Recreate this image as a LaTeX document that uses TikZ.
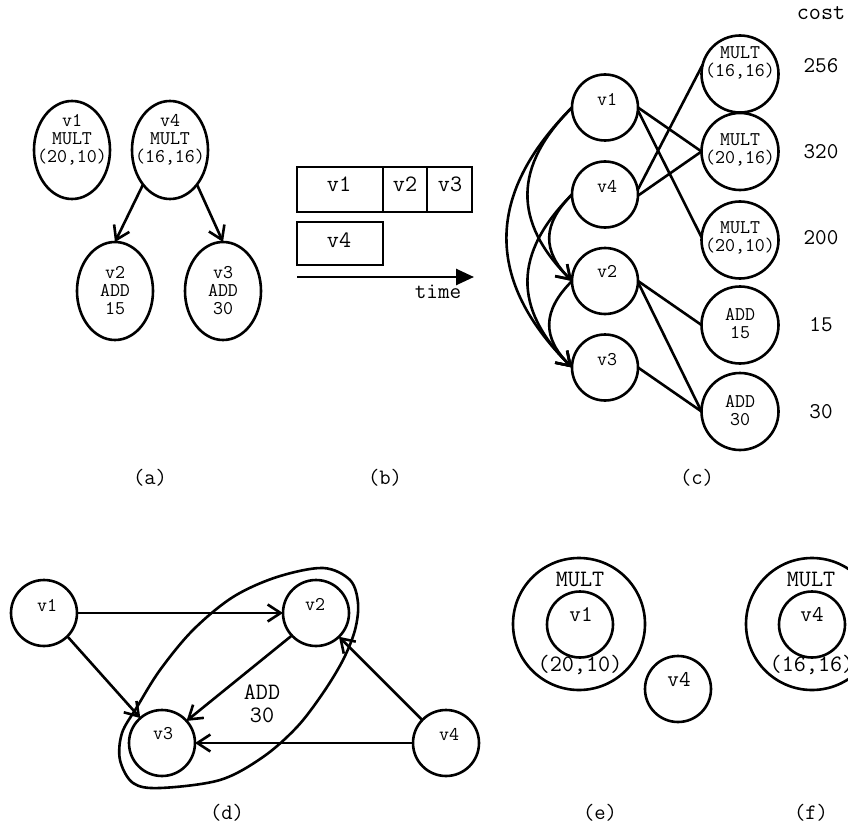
\documentclass[tikz,border=0pt]{standalone}
\usetikzlibrary{shapes.geometric,arrows.meta}
\begin{document}
\begin{tikzpicture}[x=1pt,y=-1pt,line width=2.6pt,
  every node/.style={inner sep=0pt,outer sep=0pt},
  ell/.style={draw,ellipse,minimum width=76pt,minimum height=98pt},
  vc/.style={draw,circle,minimum size=66pt},
  oc/.style={draw,circle,minimum size=77pt},
  bigc/.style={draw,circle,minimum size=132pt},
  boxn/.style={draw,rectangle},
  arr/.style={-{Straight Barb[length=13pt,width=17pt]}},
  tA/.style={font=\ttfamily\fontsize{19.4}{18}\selectfont,align=center},
  tB/.style={font=\ttfamily\fontsize{22.5}{22}\selectfont,align=center},
  tC/.style={font=\ttfamily\fontsize{23.5}{23}\selectfont,align=center},
  lab/.style={font=\ttfamily\fontsize{22}{22}\selectfont}]
\fill[white] (0,0) rectangle (848,829);
\useasboundingbox (0,0) rectangle (848,829);

% ---------- (a)
\node[ell] (a1) at (72,150) {};
\node[ell] (a4) at (170,150) {};
\node[ell] (a2) at (115,291) {};
\node[ell] (a3) at (223,291) {};
\node[tA] (a1t) at (72,140) {v1\\MULT\\(20,10)};
\node[tA] (a4t) at (170,140) {v4\\MULT\\(16,16)};
\node[tA] (a2t) at (115,291) {v2\\ADD\\15};
\node[tA] (a3t) at (223,291) {v3\\ADD\\30};
\draw[arr] (a4.232) -- (a2.90);
\draw[arr] (a4.308) -- (a3.90);

% ---------- (b)
\node[boxn,minimum width=86pt,minimum height=45pt] (b1) at (340,189.5) {};
\node[boxn,minimum width=44pt,minimum height=45pt] (b2) at (405,189.5) {};
\node[boxn,minimum width=45pt,minimum height=45pt] (b3) at (449.5,189.5) {};
\node[boxn,minimum width=86pt,minimum height=43pt] (b4) at (340,243.5) {};
\node[tC] (b1t) at (339,184) {v1};
\node[tC] (b2t) at (405,184) {v2};
\node[tC] (b3t) at (450,184) {v3};
\node[tC] (b4t) at (339,240) {v4};
\coordinate (t0) at (297,277);
\coordinate (t1) at (474,277);
\draw[-{Triangle[length=18pt,width=16pt]}] (t0) -- (t1);
\node[tB] (time) at (438,292) {time};

% ---------- (c)
\node[vc] (c1) at (605,107.5) {};
\node[vc] (c4) at (605,194.5) {};
\node[vc] (c2) at (605,281) {};
\node[vc] (c3) at (605,367.5) {};
\node[tA] (c1t) at (607,100) {v1};
\node[tA] (c4t) at (607,186) {v4};
\node[tA] (c2t) at (607,272) {v2};
\node[tA] (c3t) at (607,360) {v3};
\node[oc] (m1) at (740,74) {};
\node[oc] (m2) at (740,151.5) {};
\node[oc] (m3) at (740,240) {};
\node[oc] (d15) at (740,325) {};
\node[oc] (d30) at (740,411.5) {};
\node[tA] (m1t) at (740,63) {MULT\\(16,16)};
\node[tA] (m2t) at (740,150) {MULT\\(20,16)};
\node[tA] (m3t) at (740,238) {MULT\\(20,10)};
\node[tA] (d15t) at (740,324) {ADD\\15};
\node[tA] (d30t) at (740,411) {ADD\\30};
\node[tC] (cost) at (821,13) {cost};
\node[tB] (k1) at (821,66) {256};
\node[tB] (k2) at (821,152) {320};
\node[tB] (k3) at (821,238) {200};
\node[tB] (k4) at (821,325) {15};
\node[tB] (k5) at (821,412) {30};
\draw (c1.0) -- (m2.180);
\draw (c1.355) -- (m3.176);
\draw (c4.8) -- (m1.166);
\draw (c4.358) -- (m2.180);
\draw (c2.0) -- (d15.180);
\draw (c2.358) -- (d30.180);
\draw (c3.0) -- (d30.180);
\draw[arr] (c1.west) .. controls +(-87,87) and +(-87,-87) .. (c3.west);
\draw[arr] (c1.west) .. controls +(-59,59) and +(-59,-59) .. (c2.west);
\draw[arr] (c4.west) .. controls +(-59,59) and +(-59,-59) .. (c3.west);
\draw[arr] (c4.west) .. controls +(-30,30) and +(-30,-30) .. (c2.west);
\draw[arr] (c2.west) .. controls +(-30,30) and +(-30,-30) .. (c3.west);

% ---------- (d)
\node[vc] (e1) at (44,613) {};
\node[vc] (e2) at (316,613) {};
\node[vc] (e3) at (162,743) {};
\node[vc] (e4) at (446,743) {};
\node[tA] (e1t) at (47,605) {v1};
\node[tA] (e2t) at (315,604) {v2};
\node[tA] (e3t) at (163,734) {v3};
\node[tA] (e4t) at (449,734) {v4};
\node[tC] (addt) at (262,704) {ADD\\30};
\draw[arr] (e1.east) -- (e2.west);
\draw[arr] (e1.315) -- (e3.131);
\draw[arr] (e2.223) -- (e3.42);
\draw[arr] (e4.west) -- (e3.east);
\draw[arr] (e4.136) -- (e2.314);
\draw plot[smooth cycle,tension=0.55] coordinates {
  (323,568) (350,580) (358,603) (355,630) (343,660) (323,693) (297,727)
  (263,757) (220,780) (160,788) (133,783) (120,760) (122,733) (137,707)
  (160,670) (193,630) (233,597) (277,577)};

% ---------- (e), (f)
\node[bigc] (g1) at (579,624) {};
\node[vc] (g1i) at (580,624.5) {};
\node[tC] (g1m) at (580,579) {MULT};
\node[tB] (g1v) at (581,615) {v1};
\node[tC] (g1n) at (580,665) {(20,10)};
\node[vc] (g4) at (678,689) {};
\node[tB] (g4t) at (679,680) {v4};
\begin{scope}
\clip (0,0) rectangle (848,829);
\node[bigc] (f1) at (812,624) {};
\node[vc] (f1i) at (812,624.5) {};
\node[tC] (f1m) at (811,579) {MULT};
\node[tB] (f1v) at (812,615) {v4};
\node[tC] (f1n) at (812,665) {(16,16)};
\end{scope}

% ---------- labels
\node[lab] (la) at (150,478) {(a)};
\node[lab] (lb) at (385,478) {(b)};
\node[lab] (lc) at (697,478) {(c)};
\node[lab] (ld) at (227,813) {(d)};
\node[lab] (le) at (600,813) {(e)};
\node[lab] (lf) at (811,813) {(f)};
\end{tikzpicture}
\end{document}
